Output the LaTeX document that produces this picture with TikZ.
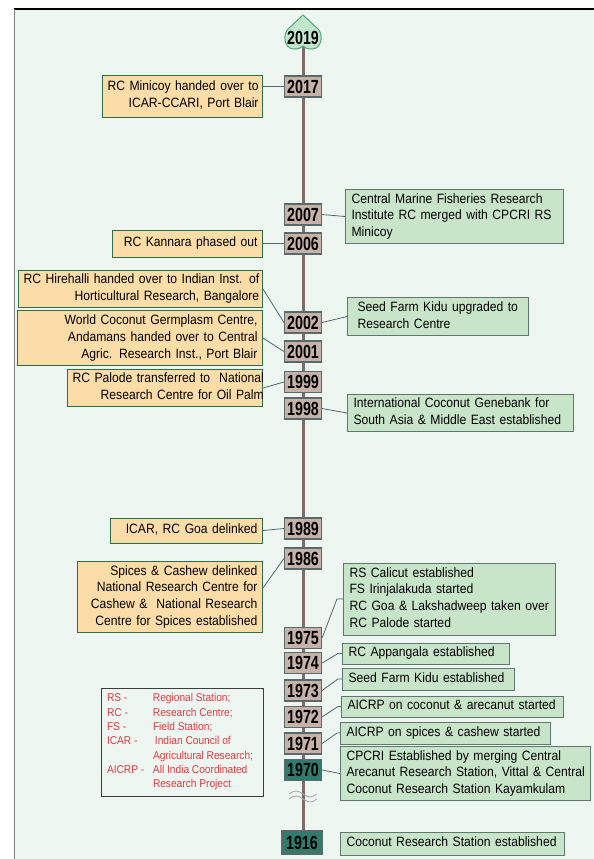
\documentclass[tikz,border=0pt]{standalone}
\usepackage{fontspec}
\setmainfont{Liberation Sans}[FakeStretch=0.9]
\newfontfamily\yearfont{Liberation Sans}[FakeStretch=0.75]
\usepackage{xcolor}
\usepackage{tikz}

\definecolor{bgmint}{RGB}{238,246,242}
\definecolor{yearfill}{RGB}{199,178,170}
\definecolor{yearline}{RGB}{90,105,105}
\definecolor{tealfill}{RGB}{47,124,110}
\definecolor{leftfill}{RGB}{252,221,168}
\definecolor{leftline}{RGB}{47,110,70}
\definecolor{rightfill}{RGB}{200,229,202}
\definecolor{rightline}{RGB}{96,118,112}
\definecolor{linkcol}{RGB}{78,106,106}
\definecolor{spinecol}{RGB}{126,108,105}
\definecolor{leaffill}{RGB}{194,230,204}
\definecolor{leafline}{RGB}{79,169,120}
\definecolor{legendline}{RGB}{60,60,60}
\definecolor{legendred}{RGB}{232,56,61}

\newcommand{\rlines}[1]{\begin{tabular}{@{}r@{}}#1\end{tabular}}
\newcommand{\llines}[1]{\begin{tabular}{@{}l@{}}#1\end{tabular}}

\tikzset{
    yearbox/.style={draw=yearline,fill=yearfill,line width=1.2pt,minimum width=37pt,minimum height=21pt,inner sep=0pt,font=\yearfont\fontsize{19}{19}\selectfont\bfseries},
    oldyear/.style={yearbox,fill=tealfill},
    leftbox/.style={draw=leftline,fill=leftfill,line width=1pt,anchor=east,align=right,inner xsep=5pt,inner ysep=2pt,font=\fontsize{13.5}{16.8}\selectfont},
    rightbox/.style={draw=rightline,fill=rightfill,line width=1pt,anchor=west,align=left,inner xsep=6pt,inner ysep=2pt,font=\fontsize{13.5}{16.8}\selectfont},
    legend/.style={draw=legendline,line width=1pt,minimum width=162pt,minimum height=108pt,inner sep=0pt,text=legendred,font=\fontsize{11.3}{14.3}\selectfont},
    link/.style={draw=linkcol,line width=0.8pt},
    spine/.style={draw=spinecol,line width=3pt},
    brk/.style={draw=gray!70,line width=0.8pt}
}

\begin{document}
\begin{tikzpicture}[x=1pt,y=-1pt]
    \useasboundingbox (0,0) rectangle (594,859);
    \fill[bgmint] (14,9) rectangle (594,859);
    \draw[black,line width=1.2pt] (14,9) -- (594,9);
    \draw[gray,line width=1pt] (14,9) -- (14,859);

    \coordinate (top) at (303,46);
    \coordinate (bottom) at (303,842);
    \draw[spine] (top) -- (bottom);
    \draw[brk] (289,794) sin (296,791) cos (303,794) sin (310,797) cos (317,794);
    \draw[brk] (289,799) sin (296,796) cos (303,799) sin (310,802) cos (317,799);

    \draw[draw=leafline,fill=leaffill,line width=1pt] (303,15) -- (318,29)
        .. controls (322,33) and (323,44) .. (316,48)
        .. controls (312,50) and (306,49) .. (303,46)
        .. controls (300,49) and (294,50) .. (290,48)
        .. controls (283,44) and (284,33) .. (288,29) -- cycle;
    \node[font=\yearfont\fontsize{19}{19}\selectfont\bfseries,inner sep=0pt] (y2019) at (303,38) {2019};

    \foreach \yr/\yy in {2017/86.5,2007/214.5,2006/243.5,2002/322.5,2001/351.5,1999/382,1998/408.5,1989/528.5,1986/558.5,1975/638,1974/663,1973/690.5,1972/717,1971/743.5}
        \node[yearbox] (y\yr) at (303,\yy) {\yr};
    \node[oldyear] (y1970) at (303,770) {1970};
    \node[oldyear,minimum width=40pt,minimum height=23pt] (y1916) at (302,842.5) {1916};

    \node[leftbox,text width=150pt,minimum height=42pt] (l2017) at (263,96) {\rlines{RC Minicoy handed over to\\ICAR-CCARI, Port Blair}};
    \node[leftbox,text width=140pt,minimum height=27pt] (l2006) at (263,243.5) {\rlines{RC Kannara phased out}};
    \node[leftbox,text width=234pt,minimum height=34pt] (l2002) at (263,289) {\rlines{RC Hirehalli handed over to Indian Inst. of\\Horticultural Research, Bangalore}};
    \node[leftbox,text width=235pt,minimum height=50pt] (l2001) at (263,338) {\rlines{World Coconut Germplasm Centre,\\Andamans handed over to Central\\Agric. Research Inst., Port Blair}};
    \node[leftbox,text width=185pt,minimum height=34pt] (l1999) at (263,388) {\rlines{RC Palode transferred to\ \ National\\Research Centre for Oil Palm}};
    \node[leftbox,text width=142pt,minimum height=25pt] (l1989) at (263,530.5) {\rlines{ICAR, RC Goa delinked}};
    \node[leftbox,text width=175pt,minimum height=70pt] (l1986) at (263,597) {\rlines{Spices \& Cashew delinked\\National Research Centre for\\Cashew \&\ \ National Research\\Centre for Spices established}};

    \node[rightbox,text width=206pt,minimum height=49pt] (r2007) at (345,216.5) {\llines{Central Marine Fisheries Research\\Institute RC merged with CPCRI RS\\Minicoy}};
    \node[rightbox,inner xsep=10pt,text width=161pt,minimum height=37pt] (r2002) at (347,316.5) {\llines{Seed Farm Kidu upgraded to\\Research Centre}};
    \node[rightbox,text width=214pt,minimum height=36pt] (r1998) at (347,413) {\llines{International Coconut Genebank for\\South Asia \& Middle East established}};
    \node[rightbox,text width=200pt,minimum height=72pt] (r1975) at (343,599) {\llines{RS Calicut established\\FS Irinjalakuda started\\RC Goa \& Lakshadweep taken over\\RC Palode started}};
    \node[rightbox,text width=155pt,minimum height=21pt] (r1974) at (342,653.5) {\llines{RC Appangala established}};
    \node[rightbox,text width=160pt,minimum height=22pt] (r1973) at (342,679) {\llines{Seed Farm Kidu established}};
    \node[rightbox,text width=210pt,minimum height=21pt] (r1972) at (341,706.5) {\llines{AICRP on coconut \& arecanut started}};
    \node[rightbox,text width=198pt,minimum height=22pt] (r1971) at (340,733) {\llines{AICRP on spices \& cashew started}};
    \node[rightbox,text width=238pt,minimum height=53pt] (r1970) at (340,773.5) {\llines{CPCRI Established by merging Central\\Arecanut Research Station, Vittal \& Central\\Coconut Research Station Kayamkulam}};
    \node[rightbox,text width=212pt,minimum height=23pt] (r1916) at (340,843.5) {\llines{Coconut Research Station established}};

    \node[legend] (key) at (182,742) {\begin{tabular}{@{}p{46pt}@{}p{104pt}@{}}
        RS - & Regional Station;\\
        RC - & Research Centre;\\
        FS - & Field Station;\\
        ICAR - & \hspace{2pt}Indian Council of\\
         & Agricultural Research;\\
        AICRP - & All India Coordinated\\
         & Research Project
    \end{tabular}};

    \draw[link] (y2017.west) -- (y2017.west -| l2017.east);
    \draw[link] (l2006.east) -- (y2006.west);
    \draw[link] (l2002.east) -- (y2002.west);
    \draw[link] (l2001.east) -- (y2001.west);
    \draw[link] (l1999.east) -- (y1999.west);
    \draw[link] (l1989.east) -- (y1989.west);
    \draw[link] ([yshift=9pt]l1986.east) -- (y1986.west);

    \draw[link] (y2007.east) -- (r2007.west);
    \draw[link] (y2002.east) -- (r2002.west);
    \draw[link] (y1998.east) -- (r1998.west);
    \draw[link] (y1975.east) -- ([xshift=-6pt]r1975.west) -- (r1975.west);
    \draw[link] (y1974.east) -- ([xshift=-4pt]r1974.west) -- (r1974.west);
    \draw[link] (y1973.east) -- ([xshift=-4pt]r1973.west) -- (r1973.west);
    \draw[link] (y1972.east) -- ([xshift=-3pt]r1972.west) -- (r1972.west);
    \draw[link] (y1971.east) -- ([xshift=-3pt]r1971.west) -- (r1971.west);
    \draw[link] (y1970.east) -- (r1970.west);
\end{tikzpicture}
\end{document}
